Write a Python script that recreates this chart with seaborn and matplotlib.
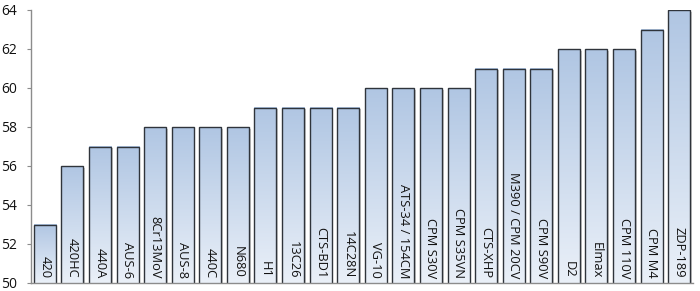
import numpy as np
import pandas as pd
import matplotlib
matplotlib.use("Agg")
import matplotlib.pyplot as plt
import matplotlib.transforms as mtransforms
from matplotlib.patches import Rectangle
import seaborn as sns

steels = ["420", "420HC", "440A", "AUS-6", "8Cr13MoV", "AUS-8", "440C", "N680",
          "H1", "13C26", "CTS-BD1", "14C28N", "VG-10", "ATS-34 / 154CM", "CPM S30V",
          "CPM S35VN", "CTS-XHP", "M390 / CPM 20CV", "CPM S90V", "D2", "Elmax",
          "CPM 110V", "CPM M4", "ZDP-189"]
hardness = [53, 56, 57, 57, 58, 58, 58, 58, 59, 59, 59, 59, 60, 60, 60, 60,
            61, 61, 61, 62, 62, 62, 63, 64]
yticks = [50, 52, 54, 56, 58, 60, 62, 64]

df = pd.DataFrame({"steel": steels, "hrc": hardness})

sns.set_style("white")
plt.rcParams["font.family"] = ["Open Sans", "DejaVu Sans"]

fig = plt.figure(figsize=(7.0, 2.91), dpi=100)
ax = fig.add_axes([31/700, 8/291, 662/700, 273/291])

sns.barplot(data=df, x="steel", y="hrc", ax=ax, width=0.8,
            color="#c4d5ea", edgecolor="#2f343b", linewidth=1.0)

ymin, ymax = 50, 64
ax.set_ylim(ymin, ymax)
ax.set_xlim(-0.5, len(steels) - 0.5)
ax.set_yticks(yticks)
ax.set_yticklabels([str(t) for t in yticks], fontsize=10, color="#111111")
ax.set_xticks([])
ax.set_xlabel("")
ax.set_ylabel("")
for s in ["top", "right"]:
    ax.spines[s].set_visible(False)
for s in ["left", "bottom"]:
    ax.spines[s].set_color("#8c8c8c")
    ax.spines[s].set_linewidth(1.0)
    ax.spines[s].set_zorder(6)
ax.tick_params(axis="y", length=3, color="#8c8c8c", pad=7, left=True)

grad = np.linspace(0, 1, 256).reshape(-1, 1)
cmap = matplotlib.colors.LinearSegmentedColormap.from_list(
    "g", ["#eaf0f8", "#b0c6e3"])
shadow_tr = mtransforms.offset_copy(ax.transData, fig=fig, x=1.6, y=-1.6, units="dots")
for p in list(ax.patches):
    x0, y0 = p.get_x(), p.get_y()
    w, h = p.get_width(), p.get_height()
    top = y0 + h
    p.set_facecolor("none")
    p.set_zorder(4)
    sh = Rectangle((x0, ymin), w, top - ymin, transform=shadow_tr, facecolor="#a8a8a8",
                   edgecolor="none", alpha=0.6, zorder=2)
    ax.add_patch(sh)
    im = ax.imshow(grad, cmap=cmap, extent=[x0, x0 + w, ymin, top],
                   origin="lower", aspect="auto", zorder=3)

for i, name in enumerate(steels):
    ax.text(i, 50.25, name, rotation=270, ha="center", va="bottom",
            fontsize=9.3, color="#111111", zorder=5)

ax.set_xlim(-0.5, len(steels) - 0.5)
ax.set_ylim(ymin, ymax)
fig.savefig("out.png", dpi=100)
